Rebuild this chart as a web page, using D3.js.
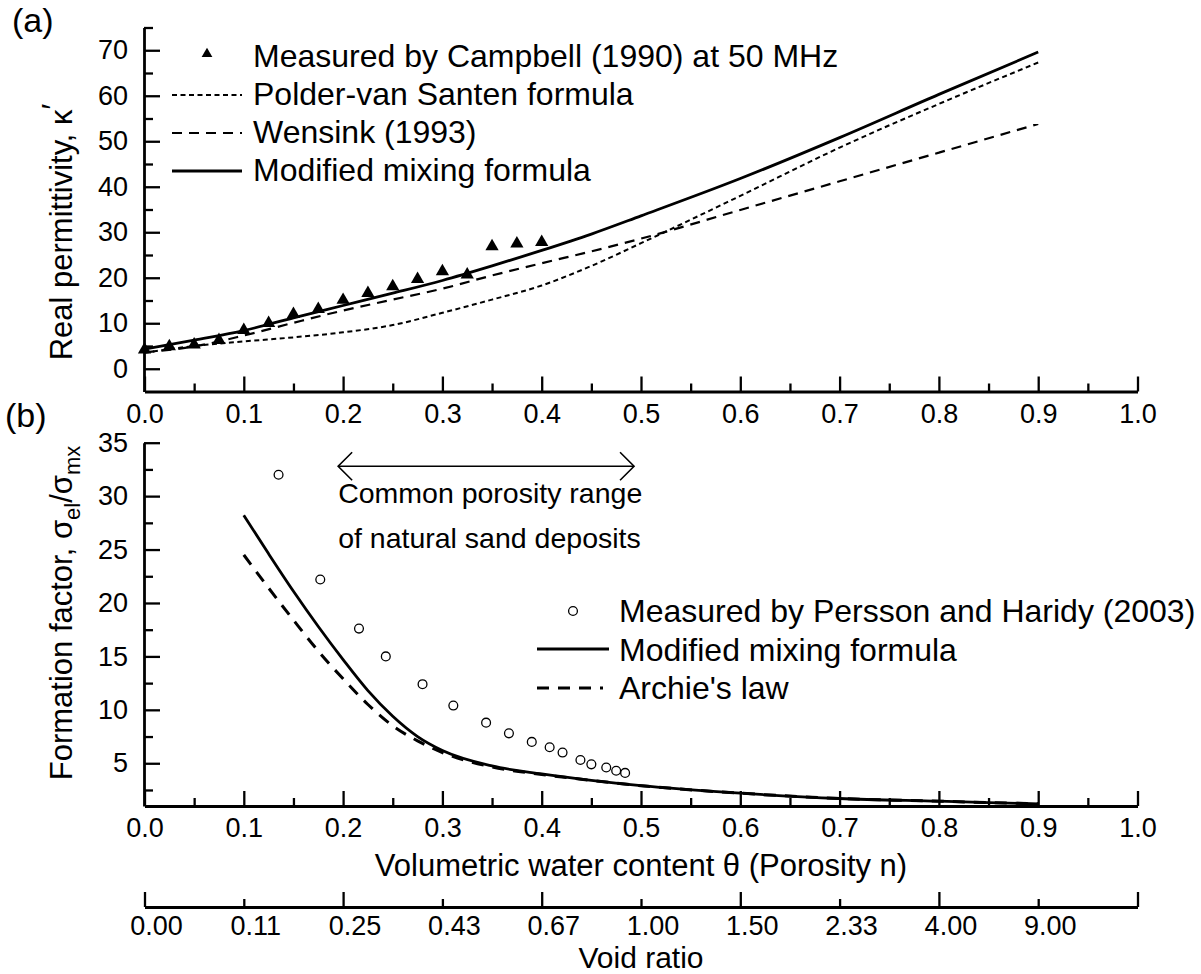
<!DOCTYPE html>
<html>
<head>
<meta charset="utf-8">
<script src="https://cdn.jsdelivr.net/npm/d3@7/dist/d3.min.js"></script>
<style>
html,body{margin:0;padding:0;background:#fff;}
svg{display:block;font-family:"Liberation Sans",Arial,sans-serif;}
</style>
</head>
<body>
<svg id="chart" width="1201" height="974"></svg>
<script>
// ---------- DATA ----------
// Panel (a): real permittivity vs volumetric water content
const thetaA = [0, 0.05, 0.1, 0.15, 0.2, 0.25, 0.3, 0.35, 0.4, 0.45, 0.5, 0.6, 0.7, 0.8, 0.9];
const modifiedA = [4.3, 6.3, 8.4, 11.2, 13.9, 16.6, 19.4, 22.6, 26.0, 29.6, 33.6, 41.8, 50.8, 60.3, 69.6];
const wensink = [3.6, 4.9, 7.3, 10.1, 12.8, 15.2, 17.6, 20.5, 23.2, 25.8, 28.6, 34.9, 41.2, 47.5, 53.8];
const polder = [3.5, 5.0, 6.0, 6.9, 8.0, 9.6, 12.3, 15.2, 18.3, 22.6, 27.6, 38.0, 48.6, 58.2, 67.3];
const campbellTheta = [0, 0.025, 0.05, 0.075, 0.1, 0.125, 0.15, 0.175, 0.2, 0.225, 0.25, 0.275, 0.3, 0.325, 0.35, 0.375, 0.4];
const campbellK = [4.2, 4.9, 5.3, 6.3, 8.5, 10.0, 12.0, 13.1, 15.1, 16.6, 18.1, 19.7, 21.4, 20.7, 26.9, 27.5, 27.8];

// Panel (b): formation factor vs porosity
const thetaB = [0.1, 0.125, 0.15, 0.175, 0.2, 0.225, 0.25, 0.275, 0.3, 0.35, 0.4, 0.45, 0.5, 0.6, 0.7, 0.8, 0.9];
const modifiedB = [28.2, 24.6, 21.1, 17.8, 14.7, 11.8, 9.4, 7.5, 6.2, 4.75, 4.0, 3.4, 2.9, 2.2, 1.7, 1.45, 1.2];
const archie = [24.5, 21.4, 18.4, 15.5, 12.9, 10.5, 8.5, 7.1, 6.0, 4.65, 3.95, 3.4, 2.9, 2.2, 1.7, 1.45, 1.2];
const perssonTheta = [0.135, 0.177, 0.216, 0.243, 0.280, 0.311, 0.344, 0.367, 0.390, 0.408, 0.421, 0.439, 0.450, 0.465, 0.475, 0.484];
const perssonF = [32.0, 22.2, 17.6, 15.0, 12.4, 10.4, 8.8, 7.8, 7.0, 6.5, 6.0, 5.3, 4.9, 4.6, 4.3, 4.1];

// Axes ticks
const xMajor = [0, 0.1, 0.2, 0.3, 0.4, 0.5, 0.6, 0.7, 0.8, 0.9, 1.0];
const xMinor = [0.05, 0.15, 0.25, 0.35, 0.45, 0.55, 0.65, 0.75, 0.85, 0.95];
const yAMajor = [0, 10, 20, 30, 40, 50, 60, 70];
const yAMinor = [5, 15, 25, 35, 45, 55, 65, 75];
const yBMajor = [5, 10, 15, 20, 25, 30, 35];
const yBMinor = [2.5, 7.5, 12.5, 17.5, 22.5, 27.5, 32.5];
const voidMajor = [0, 0.2, 0.4, 0.6, 0.8, 1.0];
const voidMinor = [0.1, 0.3, 0.5, 0.7, 0.9];
const voidPos = [0, 0.1, 0.2, 0.3, 0.4, 0.5, 0.6, 0.7, 0.8, 0.9];
const voidLabels = ["0.00", "0.11", "0.25", "0.43", "0.67", "1.00", "1.50", "2.33", "4.00", "9.00"];

// Annotation: common porosity range arrow
const rangeTheta = [0.195, 0.493];
const rangeF = 32.8;

// ---------- DRAW ----------
const svg = d3.select("#chart");
const x = d3.scaleLinear().domain([0, 1]).range([144.5, 1137.5]);
const yA = d3.scaleLinear().domain([-5, 75]).range([391.5, 27.5]);
const yB = d3.scaleLinear().domain([1, 35]).range([806, 442.7]);

const TICKFONT = 27;
const FONT = '"Liberation Sans", Arial, sans-serif';

function styleAxis(g, w) {
  g.selectAll("path.domain").attr("stroke", "#000").attr("stroke-width", w);
  g.selectAll(".tick line").attr("stroke", "#000").attr("stroke-width", 2.3);
  g.selectAll("text").attr("font-size", TICKFONT).attr("fill", "#000").attr("font-family", FONT);
}

function xAxis(yPos) {
  const g = svg.append("g").attr("transform", `translate(0,${yPos})`);
  g.call(d3.axisBottom(x).tickValues(xMajor).tickFormat(d3.format(".1f"))
    .tickSizeInner(-15).tickSizeOuter(0).tickPadding(12));
  styleAxis(g, 2.8);
  const gm = svg.append("g").attr("transform", `translate(0,${yPos})`);
  gm.call(d3.axisBottom(x).tickValues(xMinor).tickFormat("").tickSizeInner(-8).tickSizeOuter(0));
  gm.select("path.domain").remove();
  styleAxis(gm, 2.8);
}

function yAxis(scale, major, minor, fmt) {
  const g = svg.append("g").attr("transform", `translate(144,0)`);
  g.call(d3.axisLeft(scale).tickValues(major).tickFormat(fmt)
    .tickSizeInner(-16).tickSizeOuter(0).tickPadding(16));
  styleAxis(g, 2.8);
  const gm = svg.append("g").attr("transform", `translate(144,0)`);
  gm.call(d3.axisLeft(scale).tickValues(minor).tickFormat("").tickSizeInner(-9).tickSizeOuter(0));
  gm.select("path.domain").remove();
  styleAxis(gm, 2.8);
}

// Panel (a)
yAxis(yA, yAMajor, yAMinor, d3.format("d"));
xAxis(391.5);

const lineA = (vals) => d3.line().x((d, i) => x(thetaA[i])).y(d => yA(d)).curve(d3.curveMonotoneX)(vals);
svg.append("path").attr("d", lineA(polder)).attr("fill", "none").attr("stroke", "#000")
  .attr("stroke-width", 2).attr("stroke-dasharray", "5,3.5");
svg.append("path").attr("d", lineA(wensink)).attr("fill", "none").attr("stroke", "#000")
  .attr("stroke-width", 2.2).attr("stroke-dasharray", "10,7");
svg.append("path").attr("d", lineA(modifiedA)).attr("fill", "none").attr("stroke", "#000")
  .attr("stroke-width", 2.8);

const tri = d3.symbol().type(d3.symbolTriangle).size(76);
svg.append("g").selectAll("path").data(campbellTheta).join("path")
  .attr("d", tri).attr("fill", "#000")
  .attr("transform", (d, i) => `translate(${x(d)},${yA(campbellK[i])})`);

// Legend (a)
const LEGFONT = 32;
const legA = svg.append("g");
legA.append("path").attr("d", d3.symbol().type(d3.symbolTriangle).size(50)())
  .attr("transform", "translate(207,54)").attr("fill", "#000");
[[95, "5,3.5", 2], [133, "10,7", 2.2], [171, null, 2.8]].forEach(([yy, da, w]) => {
  const l = legA.append("line").attr("x1", 172).attr("x2", 242).attr("y1", yy).attr("y2", yy)
    .attr("stroke", "#000").attr("stroke-width", w);
  if (da) l.attr("stroke-dasharray", da);
});
["Measured by Campbell (1990) at 50 MHz", "Polder-van Santen formula", "Wensink (1993)", "Modified mixing formula"]
  .forEach((t, i) => {
    legA.append("text").attr("x", 253).attr("y", 66.5 + i * 38.3).attr("font-size", LEGFONT).text(t);
  });

// Panel labels
svg.append("text").attr("x", 12).attr("y", 32).attr("font-size", 34).text("(a)");
svg.append("text").attr("x", 5).attr("y", 427).attr("font-size", 34).text("(b)");

// Y title (a)
const ta = svg.append("text").attr("transform", "translate(72,232) rotate(-90)")
  .attr("text-anchor", "middle").attr("font-size", 31);
ta.append("tspan").text("Real permittivity, κ");
ta.append("tspan").attr("dy", -8).attr("font-size", 31).text("′");

// Panel (b)
yAxis(yB, yBMajor, yBMinor, d3.format("d"));
xAxis(806);

const lineB = (vals) => d3.line().x((d, i) => x(thetaB[i])).y(d => yB(d)).curve(d3.curveMonotoneX)(vals);
svg.append("path").attr("d", lineB(archie)).attr("fill", "none").attr("stroke", "#000")
  .attr("stroke-width", 3).attr("stroke-dasharray", "12,9");
svg.append("path").attr("d", lineB(modifiedB)).attr("fill", "none").attr("stroke", "#000")
  .attr("stroke-width", 2.8);

svg.append("g").selectAll("circle").data(perssonTheta).join("circle")
  .attr("cx", d => x(d)).attr("cy", (d, i) => yB(perssonF[i])).attr("r", 4.4)
  .attr("fill", "none").attr("stroke", "#000").attr("stroke-width", 1.3);

// Arrow
const ax1 = x(rangeTheta[0]), ax2 = x(rangeTheta[1]), ay = yB(rangeF);
const arr = svg.append("g").attr("stroke", "#000").attr("stroke-width", 1.6).attr("fill", "none");
arr.append("line").attr("x1", ax1).attr("x2", ax2).attr("y1", ay).attr("y2", ay);
arr.append("path").attr("d", `M${ax1 + 14},${ay - 14}L${ax1},${ay}L${ax1 + 14},${ay + 14}`);
arr.append("path").attr("d", `M${ax2 - 14},${ay - 14}L${ax2},${ay}L${ax2 - 14},${ay + 14}`);
svg.append("text").attr("x", ax1).attr("y", 503).attr("font-size", 28.5).text("Common porosity range");
svg.append("text").attr("x", ax1).attr("y", 548).attr("font-size", 28.5).text("of natural sand deposits");

// Legend (b)
const legB = svg.append("g");
legB.append("circle").attr("cx", 573).attr("cy", 611).attr("r", 4.4)
  .attr("fill", "none").attr("stroke", "#000").attr("stroke-width", 1.3);
legB.append("line").attr("x1", 537).attr("x2", 609).attr("y1", 649).attr("y2", 649)
  .attr("stroke", "#000").attr("stroke-width", 2.8);
legB.append("line").attr("x1", 537).attr("x2", 603).attr("y1", 688).attr("y2", 688)
  .attr("stroke", "#000").attr("stroke-width", 3).attr("stroke-dasharray", "12,9");
["Measured by Persson and Haridy (2003)", "Modified mixing formula", "Archie's law"]
  .forEach((t, i) => {
    legB.append("text").attr("x", 619).attr("y", 622 + i * 38.5).attr("font-size", LEGFONT).text(t);
  });

// Y title (b)
const tb = svg.append("text").attr("transform", "translate(72,613) rotate(-90)")
  .attr("text-anchor", "middle").attr("font-size", 31);
tb.append("tspan").text("Formation factor, σ");
tb.append("tspan").attr("dy", 8).attr("font-size", 22).text("el");
tb.append("tspan").attr("dy", -8).text("/σ");
tb.append("tspan").attr("dy", 8).attr("font-size", 22).text("mx");

// X title
svg.append("text").attr("x", 641).attr("y", 876).attr("text-anchor", "middle").attr("font-size", 31)
  .text("Volumetric water content θ (Porosity n)");

// Void ratio axis
const gv = svg.append("g").attr("transform", "translate(0,907)");
gv.call(d3.axisBottom(x).tickValues(voidMajor).tickFormat("").tickSizeInner(-15).tickSizeOuter(0));
styleAxis(gv, 2.8);
const gvm = svg.append("g").attr("transform", "translate(0,907)");
gvm.call(d3.axisBottom(x).tickValues(voidMinor).tickFormat("").tickSizeInner(-8).tickSizeOuter(0));
gvm.select("path.domain").remove();
styleAxis(gvm, 2.8);
svg.append("g").selectAll("text").data(voidPos).join("text")
  .attr("x", d => x(d) + 12).attr("y", 935).attr("text-anchor", "middle")
  .attr("font-size", TICKFONT).text((d, i) => voidLabels[i]);
svg.append("text").attr("x", 641).attr("y", 968).attr("text-anchor", "middle").attr("font-size", 30)
  .text("Void ratio");
</script>
</body>
</html>
